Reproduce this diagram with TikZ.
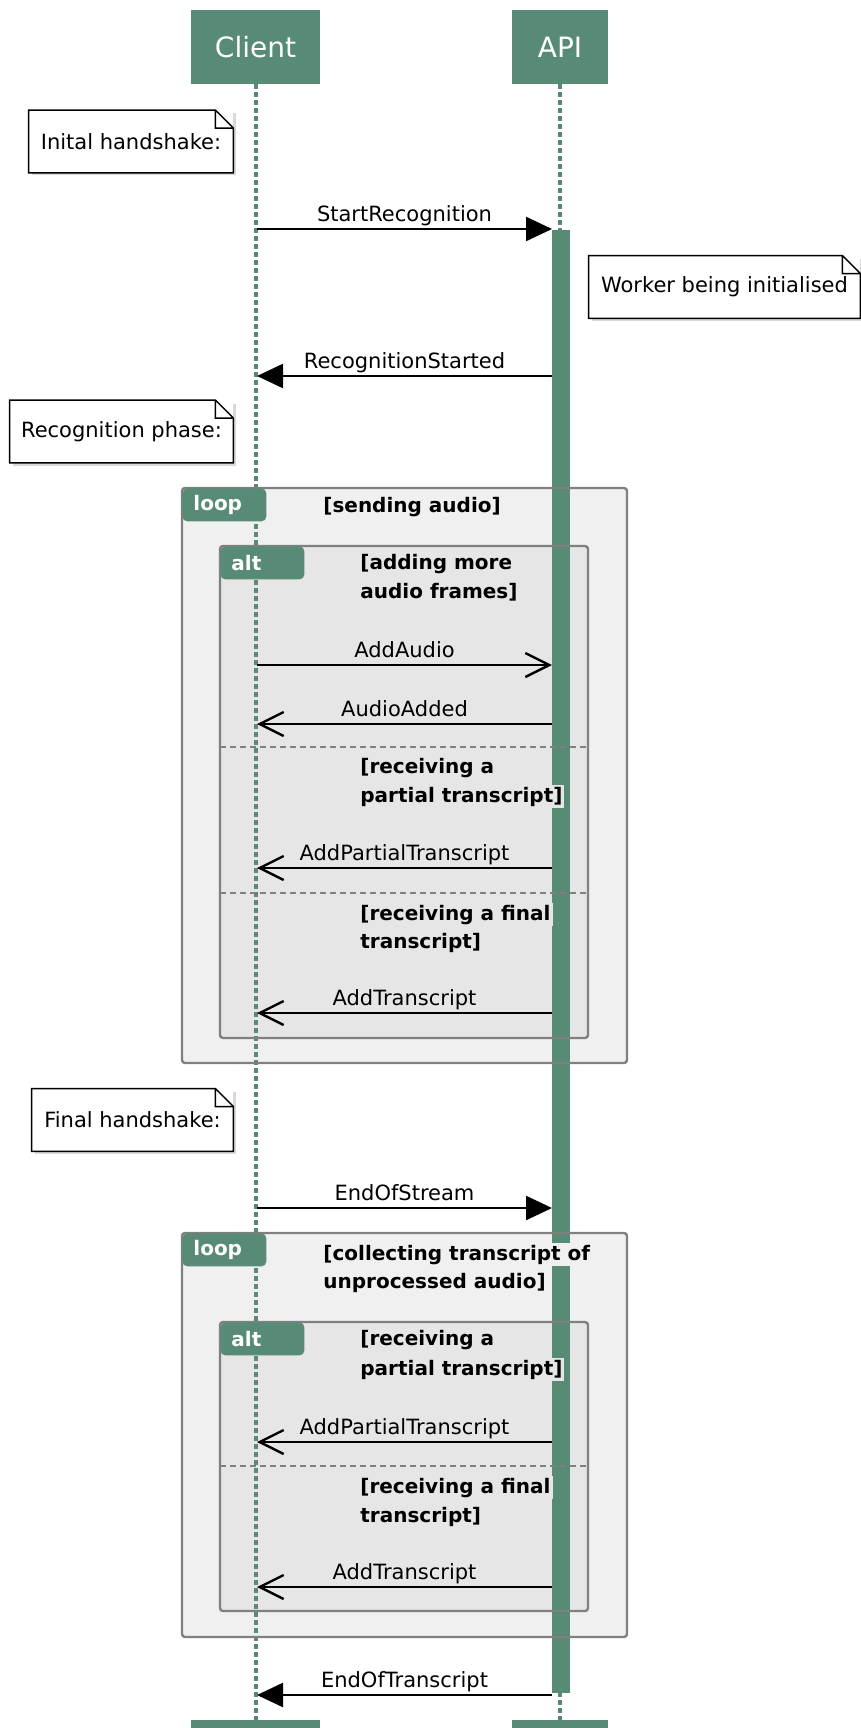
\documentclass[tikz,border=0pt]{standalone}
\usepackage{fontspec}
\setmainfont{DejaVu Sans}
\usetikzlibrary{arrows.meta,positioning,shadows}
\definecolor{umlgreen}{RGB}{87,139,117}
\definecolor{loopgray}{RGB}{240,240,240}
\definecolor{altgray}{RGB}{230,230,230}
\definecolor{framegray}{RGB}{128,128,128}
\tikzset{
	participant/.style={rectangle, fill=umlgreen, text=white, font=\fontsize{14}{16}\selectfont, minimum height=37pt, inner sep=0pt}, %uczestnicy
	lifeline/.style={umlgreen, line width=2pt, dash pattern=on 2.5pt off 1.5pt},
	act/.style={rectangle, fill=umlgreen, minimum width=9pt, inner sep=0pt},
	frame/.style={draw=framegray, line width=1.2pt, rounded corners=1.5pt},
	divider/.style={draw=framegray, line width=1pt, dash pattern=on 3pt off 2pt},
	tab/.style={fill=umlgreen, rounded corners=2.5pt, text=white, font=\fontsize{10}{12}\bfseries\selectfont, anchor=north west, minimum height=16.5pt, inner xsep=5.5pt, inner ysep=0pt, text width=31pt, align=left},
	guard/.style={font=\fontsize{10}{12}\bfseries\selectfont, anchor=base west, inner sep=1pt},
	note/.style={fill=white, font=\fontsize{10.5}{12}\selectfont, minimum height=31pt, inner sep=0pt, drop shadow={shadow xshift=1.5pt, shadow yshift=-1.5pt, opacity=0.3}},
	noteline/.style={draw=black, line width=0.7pt},
	msg/.style={font=\fontsize{10.5}{12}\selectfont, anchor=base, inner sep=0pt, yshift=4pt},
	sync/.style={line width=1.2pt, -{Triangle[length=13pt, width=12pt]}}, %pelny grot
	reply/.style={line width=1.2pt, -{Straight Barb[length=12pt, width=12pt, line width=1.2pt]}}, %otwarty grot
}
\newcommand{\notefold}[1]{\draw[noteline] (#1.north west) -- ([xshift=-9pt]#1.north east) -- ([yshift=-9pt]#1.north east) -- (#1.south east) -- (#1.south west) -- cycle ([xshift=-9pt]#1.north east) |- ([yshift=-9pt]#1.north east);}

\begin{document}
\begin{tikzpicture}[x=0.5pt, y=-0.5pt]
	\clip (0,0) rectangle (861,1728);
	% uczestnicy
	\node[participant, minimum width=64.5pt] (client) at (255.5,47) {Client};
	\node[participant, minimum width=48.25pt] (api) at (560,47) {API};
	\node[participant, minimum width=64.5pt] (clientB) at (255.5,1757) {};
	\node[participant, minimum width=48.25pt] (apiB) at (560,1757) {};
	% tla ramek
	\fill[loopgray, rounded corners=1.5pt] (182,488) rectangle (627,1063);
	\fill[altgray, rounded corners=1.5pt] (220,546) rectangle (588,1038);
	\fill[loopgray, rounded corners=1.5pt] (182,1233) rectangle (627,1637);
	\fill[altgray, rounded corners=1.5pt] (220,1322) rectangle (588,1611);
	% linie zycia
	\draw[lifeline] (client.south) -- (clientB.north);
	\draw[lifeline] (api.south) -- (apiB.north);
	\node[act, minimum height=731.5pt] (bar) at (561,961.5) {};
	% ramki
	\draw[frame] (182,488) rectangle (627,1063);
	\draw[frame] (220,546) rectangle (588,1038);
	\draw[divider] (220,747) -- (588,747);
	\draw[divider] (220,893) -- (588,893);
	\draw[frame] (182,1233) rectangle (627,1637);
	\draw[frame] (220,1322) rectangle (588,1611);
	\draw[divider] (220,1466) -- (588,1466);
	\node[tab] (loop1) at (182,488) {loop};
	\node[tab] (alt1) at (220,546) {alt};
	\node[tab] (loop2) at (182,1233) {loop};
	\node[tab] (alt2) at (220,1322) {alt};
	\node[guard, fill=loopgray] (g1) at (321,512) {[sending audio]};
	\node[guard, fill=altgray] (g2) at (358,569) {[adding more};
	\node[guard, fill=altgray] (g2b) at (358,598) {audio frames]};
	\node[guard, fill=altgray] (g3) at (358,773) {[receiving a};
	\node[guard, fill=altgray] (g3b) at (358,802) {partial transcript]};
	\node[guard, fill=altgray] (g4) at (358,920) {[receiving a final};
	\node[guard, fill=altgray] (g4b) at (358,948) {transcript]};
	\node[guard, fill=loopgray] (g5) at (321,1260) {[collecting transcript of};
	\node[guard, fill=loopgray] (g5b) at (321,1288) {unprocessed audio]};
	\node[guard, fill=altgray] (g6) at (358,1345) {[receiving a};
	\node[guard, fill=altgray] (g6b) at (358,1375) {partial transcript]};
	\node[guard, fill=altgray] (g7) at (358,1493) {[receiving a final};
	\node[guard, fill=altgray] (g7b) at (358,1522) {transcript]};
	% notatki
	\node[note, minimum width=102pt] (n1) at (131,141.5) {Inital handshake:};
	\notefold{n1}
	\node[note, minimum width=135.5pt] (n2) at (724.5,287) {Worker being initialised};
	\notefold{n2}
	\node[note, minimum width=111.5pt] (n3) at (121.5,431.5) {Recognition phase:};
	\notefold{n3}
	\node[note, minimum width=100.5pt] (n4) at (132.5,1120) {Final handshake:};
	\notefold{n4}
	% komunikaty
	\coordinate (c1) at (257,229);  \coordinate (a1) at (552,229);
	\coordinate (c2) at (257,376);  \coordinate (a2) at (552,376);
	\coordinate (c3) at (257,665);  \coordinate (a3) at (552,665);
	\coordinate (c4) at (257,724);  \coordinate (a4) at (552,724);
	\coordinate (c5) at (257,868);  \coordinate (a5) at (552,868);
	\coordinate (c6) at (257,1013); \coordinate (a6) at (552,1013);
	\coordinate (c7) at (257,1208); \coordinate (a7) at (552,1208);
	\coordinate (c8) at (257,1442); \coordinate (a8) at (552,1442);
	\coordinate (c9) at (257,1587); \coordinate (a9) at (552,1587);
	\coordinate (c10) at (257,1695); \coordinate (a10) at (552,1695);
	\draw[sync] (c1) -- node[msg] {StartRecognition} (a1);
	\draw[sync] (a2) -- node[msg] {RecognitionStarted} (c2);
	\draw[reply] (c3) -- node[msg] {AddAudio} (a3);
	\draw[reply] (a4) -- node[msg] {AudioAdded} (c4);
	\draw[reply] (a5) -- node[msg] {AddPartialTranscript} (c5);
	\draw[reply] (a6) -- node[msg] {AddTranscript} (c6);
	\draw[sync] (c7) -- node[msg] {EndOfStream} (a7);
	\draw[reply] (a8) -- node[msg] {AddPartialTranscript} (c8);
	\draw[reply] (a9) -- node[msg] {AddTranscript} (c9);
	\draw[sync] (a10) -- node[msg] {EndOfTranscript} (c10);
\end{tikzpicture}
\end{document}
